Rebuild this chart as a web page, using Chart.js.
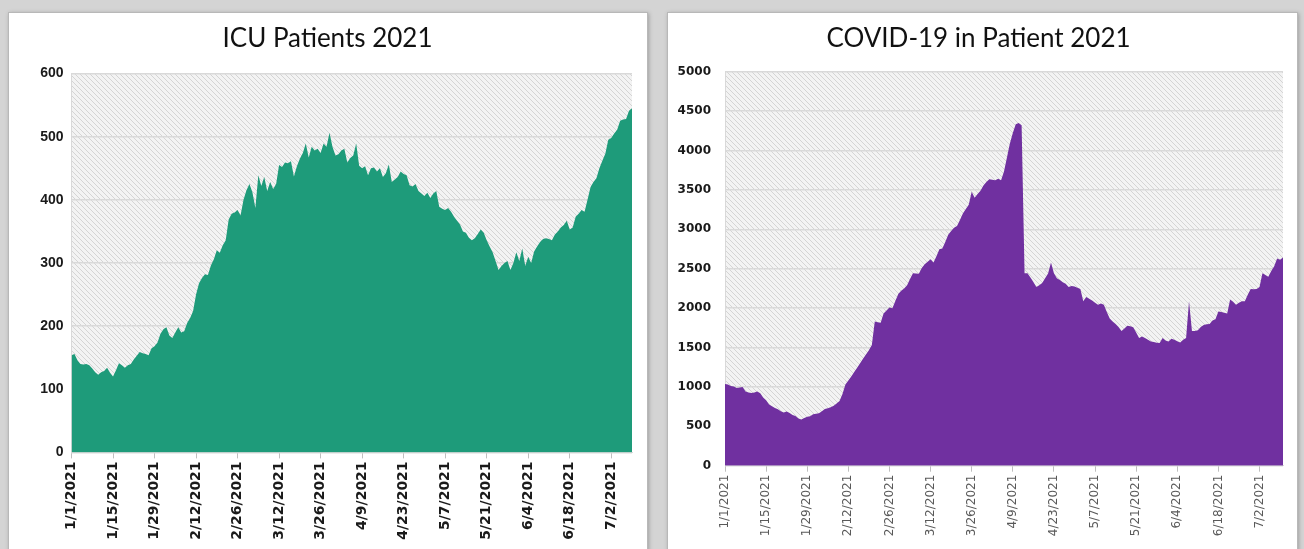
<!DOCTYPE html>
<html>
<head>
<meta charset="utf-8">
<script src="https://cdn.jsdelivr.net/npm/chart.js@4.4.1/dist/chart.umd.min.js"></script>
<style>
  html, body { margin:0; padding:0; }
  body { width:1304px; height:549px; background:#d4d4d4; position:relative; overflow:hidden; }
  .panel { position:absolute; background:#fff; border:1px solid #b8b8b8; box-shadow: 1px 1px 4px rgba(0,0,0,0.25); }
  #p1 { left:8px; top:12px; width:638px; height:545px; }
  #p2 { left:667px; top:12px; width:629px; height:545px; }
  canvas { position:absolute; }
</style>
</head>
<body>
<div class="panel" id="p1"><canvas id="c1" width="637" height="536" style="left:0;top:0;width:637px;height:536px"></canvas></div>
<div class="panel" id="p2"><canvas id="c2" width="628" height="536" style="left:0;top:0;width:628px;height:536px"></canvas></div>
<script>
// ---- Data ----
const icuTitle = "ICU Patients 2021";
const covidTitle = "COVID-19 in Patient 2021";
const startDate = [2021, 1, 1];
const icuPatients = [
154,156,146,140,139,140,138,133,127,123,127,129,134,126,120,130,141,138,134,138,
140,147,153,159,157,156,154,165,168,174,188,195,198,185,181,190,198,190,192,205,
213,224,250,268,276,282,281,296,306,320,316,328,336,369,378,380,384,375,400,415,
425,412,387,439,422,436,414,428,417,425,455,452,459,458,461,437,453,465,474,489,
467,484,478,481,474,489,484,506,484,470,472,478,481,459,466,470,489,454,450,453,
439,450,451,445,450,436,442,456,428,432,436,445,441,439,423,421,425,414,410,406,
411,403,410,414,389,386,384,387,381,373,367,361,350,348,340,336,339,346,353,348,
336,326,317,303,289,295,300,303,289,300,317,303,323,295,310,300,318,326,333,338,
339,338,336,345,350,356,360,367,353,356,373,378,384,381,400,420,428,434,450,462,
473,495,498,505,511,525,527,528,541,545];
const covidInPatient = [
1036,1030,1013,1005,987,992,1000,942,930,924,930,942,920,867,830,778,755,733,715,690,
676,689,668,644,630,600,587,605,622,628,653,660,667,690,720,728,742,760,790,822,
911,1031,1080,1133,1190,1244,1300,1356,1410,1467,1533,1831,1822,1813,1933,1970,2009,2000,2090,2178,
2222,2250,2289,2370,2444,2440,2436,2511,2556,2590,2622,2578,2660,2747,2756,2840,2933,2980,3022,3044,
3120,3200,3260,3311,3476,3400,3450,3489,3556,3600,3636,3630,3622,3644,3622,3733,3911,4089,4222,4333,
4350,4320,2444,2444,2390,2333,2267,2290,2320,2378,2440,2578,2444,2378,2356,2330,2311,2267,2280,2276,
2260,2244,2089,2142,2120,2098,2070,2044,2060,2044,1950,1867,1830,1800,1760,1711,1740,1778,1770,1756,
1690,1622,1640,1622,1600,1578,1570,1560,1556,1622,1590,1578,1610,1600,1580,1564,1600,1622,2089,1711,
1711,1720,1760,1787,1795,1800,1844,1860,1956,1950,1940,1933,2111,2080,2044,2070,2089,2089,2170,2244,
2240,2244,2267,2444,2420,2400,2470,2533,2631,2613,2644];
const icuYTicks = [0,100,200,300,400,500,600];
const covidYTicks = [0,500,1000,1500,2000,2500,3000,3500,4000,4500,5000];
const tickEveryDays = 14;

function makeDates(n) {
  const out = [];
  for (let i = 0; i < n; i++) {
    const d = new Date(Date.UTC(startDate[0], startDate[1]-1, startDate[2] + i));
    out.push((d.getUTCMonth()+1) + "/" + d.getUTCDate() + "/" + d.getUTCFullYear());
  }
  return out;
}
const icuDates = makeDates(icuPatients.length);
const covidDates = makeDates(covidInPatient.length);

// ---- hatch pattern ----
function hatch() {
  const c = document.createElement('canvas');
  c.width = 5; c.height = 5;
  const g = c.getContext('2d');
  g.fillStyle = '#f3f3f3'; g.fillRect(0,0,5,5);
  g.strokeStyle = '#d4d4d4'; g.lineWidth = 1;
  g.beginPath();
  g.moveTo(-1,-1); g.lineTo(6,6);
  g.moveTo(-1,4); g.lineTo(1,6);
  g.moveTo(4,-1); g.lineTo(6,1);
  g.stroke();
  return g.createPattern(c, 'repeat');
}
const bgPlugin = {
  id: 'hatchBg',
  beforeDraw(chart) {
    const a = chart.chartArea, ctx = chart.ctx;
    ctx.save();
    ctx.fillStyle = hatch();
    ctx.fillRect(a.left, a.top, a.right - a.left, a.bottom - a.top);
    ctx.restore();
  }
};

function build(id, labels, values, color, title, yTicks, cfg) {
  new Chart(document.getElementById(id), {
    type: 'line',
    data: { labels, datasets: [{ data: values, fill: 'origin', backgroundColor: color,
      borderColor: color, borderWidth: 0, pointRadius: 0, tension: 0 }] },
    plugins: [bgPlugin],
    options: {
      responsive: false, animation: false,
      layout: { padding: { left: cfg.padLeft, right: cfg.padRight, top: 0, bottom: 0 } },
      plugins: {
        legend: { display: false }, tooltip: { enabled: false },
        title: { display: true, text: title, color: '#111',
          font: { family: 'Lato', size: 26, weight: 'normal', lineHeight: 1.2 },
          padding: { top: cfg.titleTop, bottom: cfg.titleBottom } }
      },
      scales: {
        x: {
          type: 'category', offset: false,
          afterBuildTicks(s) { s.ticks = s.ticks.filter(t => t.value % tickEveryDays === 0); },
          afterFit(s) { s.height = cfg.xHeight; },
          grid: { display: true, drawOnChartArea: false, drawTicks: true, tickLength: 6, color: '#bfbfbf' },
          border: { display: true, color: '#d9d9d9', width: 1 },
          ticks: { autoSkip: false, minRotation: 90, maxRotation: 90, padding: 3,
            color: cfg.xColor, font: { family: 'DejaVu Sans', size: cfg.xSize, weight: cfg.xWeight } }
        },
        y: {
          min: yTicks[0], max: yTicks[yTicks.length-1],
          afterBuildTicks(s) { s.ticks = yTicks.map(v => ({ value: v })); },
          afterFit(s) { s.width = cfg.yWidth; },
          grid: { color: '#d9d9d9', lineWidth: 1.5, drawTicks: false },
          border: { display: true, color: '#d9d9d9', width: 1 },
          ticks: { padding: cfg.yPad, color: '#1a1a1a',
            callback: v => String(v),
            font: { family: cfg.yFamily, size: cfg.ySize, weight: 'bold' } }
        }
      }
    }
  });
}

build('c1', icuDates, icuPatients, '#1e9b7a', icuTitle, icuYTicks,
  { padLeft: 14, padRight: 14, titleTop: 10.5, titleBottom: 18.8, xHeight: 96.6, yWidth: 48.5, yPad: 8, yFamily: 'Liberation Sans',
    xColor: '#1a1a1a', xSize: 14, xWeight: 'bold', ySize: 14 });
build('c2', covidDates, covidInPatient, '#7030a0', covidTitle, covidYTicks,
  { padLeft: 6, padRight: 13, titleTop: 10.5, titleBottom: 17.1, xHeight: 83.3, yWidth: 51, yPad: 14, yFamily: 'DejaVu Sans',
    xColor: '#595959', xSize: 12, xWeight: 'normal', ySize: 12 });
</script>
</body>
</html>
